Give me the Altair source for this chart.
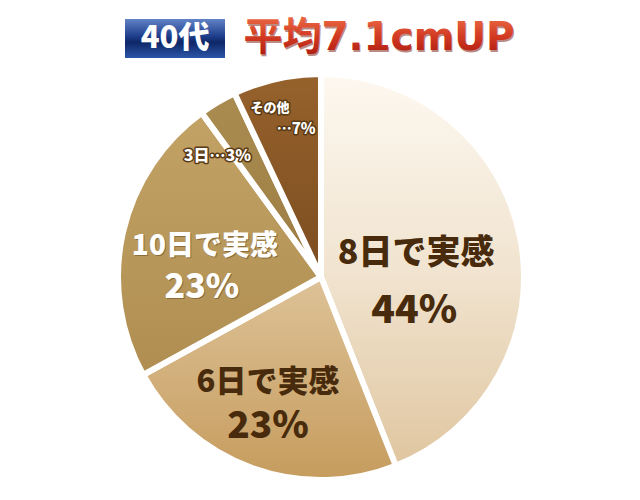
import altair as alt
import pandas as pd

# Slice data, clockwise from 12 o'clock
labels = ["8日で実感", "6日で実感", "10日で実感", "3日", "その他"]
shares = [44, 23, 23, 3, 7]

badge_text = "40代"
headline_text = "平均7.1cmUP"

df = pd.DataFrame({"label": labels, "share": shares})
df["end"] = df["share"].cumsum()
df["start"] = df["end"] - df["share"]
df["mid"] = df["start"] + df["share"] / 2
df["pct"] = df["share"].astype(str) + "%"
df["line1"] = df["label"]
df["line2"] = df["pct"]
df.loc[df["label"] == "3日", "line1"] = "3日…" + df["pct"]
df.loc[df["label"] == "3日", "line2"] = ""
df.loc[df["label"] == "その他", "line2"] = "…" + df["pct"]

CX, CY, R = 321, 277, 203
FONT = "Noto Sans CJK JP"
WEIGHT = 900
theta_scale = alt.Scale(domain=[0, 100])
base = alt.Chart(df)


def grad(stops):
    return alt.Gradient(
        gradient="linear", x1=0, y1=0, x2=0, y2=1,
        stops=[alt.GradientStop(offset=o, color=c) for o, c in stops],
    )


def wedge(name, stops):
    return base.transform_filter(alt.datum.label == name).mark_arc(
        x=CX, y=CY, outerRadius=R, stroke="white", strokeWidth=6,
        strokeJoin="round", fill=grad(stops),
    ).encode(
        theta=alt.Theta("start:Q", scale=theta_scale, stack=None),
        theta2="end:Q",
    )


def label(name, field, size, color, radius, dx, dy, **kw):
    return base.transform_filter(alt.datum.label == name).mark_text(
        x=CX, y=CY, radius=radius, dx=dx, dy=dy, font=FONT, fontWeight=WEIGHT,
        fontSize=size, fill=color, align="center", baseline="middle", **kw,
    ).encode(
        theta=alt.Theta("mid:Q", scale=theta_scale, stack=None),
        text=f"{field}:N",
    )


wedges = [
    wedge("8日で実感", [(0, "#fdf8f0"), (0.5, "#f1e4d0"), (1, "#e0c6a0")]),
    wedge("6日で実感", [(0, "#ddc297"), (1, "#c69c5e")]),
    wedge("10日で実感", [(0, "#c2a265"), (1, "#b08e52")]),
    wedge("3日", [(0, "#aa8c51"), (1, "#9c7c42")]),
    wedge("その他", [(0, "#96622c"), (1, "#7c4d20")]),
]

DARK = "#472b0c"
OUTLINE = "#5a3a14"
texts = [
    label("8日で実感", "line1", 34, DARK, 100, -3, -4),
    label("8日で実感", "line2", 39, DARK, 100, -5, 53),
    label("6日で実感", "line1", 31, DARK, 130, -9, -16),
    label("6日で実感", "line2", 37, DARK, 130, -9, 28),
    # white labels with a soft dark shadow
    label("10日で実感", "line1", 28, "#6e5226", 120, 2, -3, opacity=0.6),
    label("10日で実感", "line2", 34, "#6e5226", 120, -1, 38, opacity=0.6),
    label("10日で実感", "line1", 28, "white", 120, 1, -4),
    label("10日で実感", "line2", 34, "white", 120, -2, 37),
    # small labels with a dark outline
    label("3日", "line1", 16, "white", 135, -35, -5, stroke=OUTLINE, strokeWidth=3,
          strokeJoin="round"),
    label("3日", "line1", 16, "white", 135, -35, -5),
    label("その他", "line1", 13, "white", 160, -16, -13, stroke=OUTLINE, strokeWidth=3,
          strokeJoin="round"),
    label("その他", "line1", 13, "white", 160, -16, -13),
    label("その他", "line2", 15, "white", 160, 10, 8, stroke=OUTLINE, strokeWidth=3,
          strokeJoin="round"),
    label("その他", "line2", 15, "white", 160, 10, 8),
]

# Header: blue badge and red headline
one = pd.DataFrame({"badge": [badge_text], "headline": [headline_text]})
badge_box = alt.Chart(one).mark_rect(
    fill=grad([(0, "#6283c6"), (0.42, "#21418f"), (0.6, "#0d2767"), (1, "#2c56a8")]),
).encode(x=alt.value(125), x2=alt.value(225), y=alt.value(19), y2=alt.value(58))
badge = alt.Chart(one).mark_text(
    font=FONT, fontWeight=WEIGHT, fontSize=31, fill="white",
    align="center", baseline="middle",
).encode(text="badge:N", x=alt.value(175), y=alt.value(39))
headline_shadow = alt.Chart(one).mark_text(
    font="DejaVu Sans, Noto Sans CJK JP", fontWeight="bold", fontSize=39,
    fill="#7a1a10", opacity=0.5, align="center", baseline="middle",
).encode(text="headline:N", x=alt.value(380), y=alt.value(40))
headline = alt.Chart(one).mark_text(
    font="DejaVu Sans, Noto Sans CJK JP", fontWeight="bold", fontSize=39,
    fill=grad([(0, "#ee7048"), (0.5, "#d23a22"), (1, "#a8180e")]),
    align="center", baseline="middle",
).encode(text="headline:N", x=alt.value(379), y=alt.value(38))

chart = alt.layer(
    *wedges, *texts, badge_box, badge, headline_shadow, headline
).properties(
    width=640, height=500, autosize="none", padding=0
).configure_view(stroke=None)

chart.save("out.html", embed_options={"renderer": "svg", "actions": False})
